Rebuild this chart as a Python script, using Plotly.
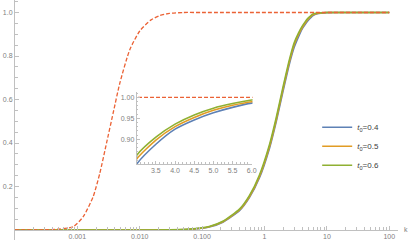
import plotly.graph_objects as go

# ---- data ----
k_solid = [0.0001, 0.01, 0.03, 0.063, 0.13, 0.215, 0.4, 0.575, 0.83, 1.2, 1.54, 1.96,
           2.5, 3.0, 3.5, 4.0, 4.5, 5.0, 5.5, 6.0, 7.0, 8.0, 10, 15, 30, 100]
t04 = [0, 0, 0.0005, 0.003, 0.014, 0.036, 0.090, 0.150, 0.240, 0.375, 0.497, 0.632,
       0.762, 0.841, 0.888, 0.924, 0.946, 0.963, 0.976, 0.986, 0.994, 0.997, 0.9995, 1.0, 1.0, 1.0]
t05 = [0, 0, 0.0005, 0.003, 0.015, 0.038, 0.093, 0.154, 0.246, 0.383, 0.506, 0.642,
       0.772, 0.853, 0.898, 0.930, 0.952, 0.969, 0.981, 0.9895, 0.996, 0.998, 0.9997, 1.0, 1.0, 1.0]
t06 = [0, 0, 0.0006, 0.004, 0.016, 0.040, 0.097, 0.159, 0.253, 0.392, 0.516, 0.652,
       0.782, 0.862, 0.905, 0.936, 0.958, 0.974, 0.985, 0.9936, 0.998, 0.999, 1.0, 1.0, 1.0, 1.0]

k_ref = [1e-4, 3e-4, 5e-4, 8.6e-4, 1.24e-3, 1.79e-3, 2.29e-3, 2.93e-3, 3.74e-3, 4.79e-3,
         6.9e-3, 0.01, 0.015, 0.021, 0.03, 0.05, 0.1, 100]
ref = [0, 0.001, 0.004, 0.015, 0.061, 0.153, 0.261, 0.399, 0.537, 0.675,
       0.828, 0.915, 0.965, 0.986, 0.996, 1.0, 1.0, 1.0]

names = ["<i>t</i><sub>0</sub>=0.4", "<i>t</i><sub>0</sub>=0.5", "<i>t</i><sub>0</sub>=0.6"]
series = [t04, t05, t06]
colors = ["#5E81B5", "#E19C24", "#8FB032"]
red = "#EB6235"

x_major = [1e-3, 1e-2, 0.1, 1, 10, 100]
x_major_text = ["0.001", "0.010", "0.100", "1", "10", "100"]
x_minor = [m * 10.0 ** e for e in range(-4, 2) for m in range(2, 10)]
y_major = [0.2, 0.4, 0.6, 0.8, 1.0]
y_major_text = ["0.2", "0.4", "0.6", "0.8", "1.0"]
y_minor = [i / 20 for i in range(1, 22)]
ix_major = [3.5, 4.0, 4.5, 5.0, 5.5, 6.0]
ix_major_text = ["3.5", "4.0", "4.5", "5.0", "5.5", "6.0"]
ix_minor = [3 + i / 10 for i in range(1, 31)]
iy_major = [0.90, 0.95, 1.00]
iy_major_text = ["0.90", "0.95", "1.00"]
iy_minor = [0.85 + i / 100 for i in range(0, 17)]

FONT = "Liberation Sans"
TICKC = "#808080"
AXC = "#c0c0c0"

fig = go.Figure()
for name, vals, c in zip(names, series, colors):
    fig.add_trace(go.Scatter(x=k_solid, y=vals, mode="lines", name=name,
                             line=dict(color=c, width=1.6, shape="spline", smoothing=0.6),
                             xaxis="x", yaxis="y", showlegend=True))
fig.add_trace(go.Scatter(x=k_ref, y=ref, mode="lines", showlegend=False,
                         line=dict(color=red, width=1.3, dash="4px,2px", shape="spline", smoothing=0.6),
                         xaxis="x", yaxis="y"))
for name, vals, c in zip(names, series, colors):
    fig.add_trace(go.Scatter(x=k_solid, y=vals, mode="lines", name=name,
                             line=dict(color=c, width=1.6, shape="spline", smoothing=0.6),
                             xaxis="x2", yaxis="y2", showlegend=False))
fig.add_trace(go.Scatter(x=k_ref, y=ref, mode="lines", showlegend=False,
                         line=dict(color=red, width=1.3, dash="4px,2px"),
                         xaxis="x2", yaxis="y2"))

ymin, ymax = -0.046, 1.0575
axis_pos = (0 - ymin) / (ymax - ymin)

tickfont = dict(family=FONT, size=7, color=TICKC)
common = dict(showline=True, linecolor=AXC, linewidth=1, showgrid=False, zeroline=False,
              automargin=False, tickcolor=AXC, tickmode="array", tickfont=tickfont, ticks="inside")
fig.update_layout(
    template="none",
    width=409, height=250,
    margin=dict(l=15, r=11, t=0, b=10, pad=0),
    paper_bgcolor="white", plot_bgcolor="white",
    font=dict(family=FONT, size=7, color=TICKC),
    xaxis=dict(type="log", range=[-4, 2.14], anchor="free", position=axis_pos,
               ticklen=4, tickvals=x_major, ticktext=x_major_text,
               minor=dict(tickmode="array", tickvals=x_minor, ticks="inside", ticklen=2.5,
                          tickcolor=AXC, showgrid=False), **common),
    yaxis=dict(range=[ymin, ymax], ticklen=4, tickvals=y_major, ticktext=y_major_text,
               minor=dict(tickmode="array", tickvals=y_minor, ticks="inside", ticklen=2.5,
                          tickcolor=AXC, showgrid=False), **common),
    xaxis2=dict(domain=[0.3178, 0.6201], anchor="y2", range=[3, 6.02],
                ticklen=3, tickvals=ix_major, ticktext=ix_major_text,
                minor=dict(tickmode="array", tickvals=ix_minor, ticks="inside", ticklen=1.5,
                           tickcolor=AXC, showgrid=False), **common),
    yaxis2=dict(domain=[0.3167, 0.6167], anchor="x2", range=[0.841, 1.0126],
                ticklen=3, tickvals=iy_major, ticktext=iy_major_text,
                minor=dict(tickmode="array", tickvals=iy_minor, ticks="inside", ticklen=1.5,
                           tickcolor=AXC, showgrid=False), **common),
    legend=dict(x=0.789, y=0.53, xanchor="left", yanchor="top",
                bgcolor="rgba(0,0,0,0)", font=dict(family=FONT, size=8, color="#404040"),
                tracegroupgap=0),
    annotations=[dict(text="k", xref="paper", yref="paper", x=1, y=axis_pos,
                      xanchor="left", yanchor="middle", xshift=4, showarrow=False,
                      font=dict(family=FONT, size=7, color=TICKC))],
)

fig.write_html("out.html", config={"displayModeBar": False},
               post_script="document.body.style.margin='0';document.body.style.padding='0';")
